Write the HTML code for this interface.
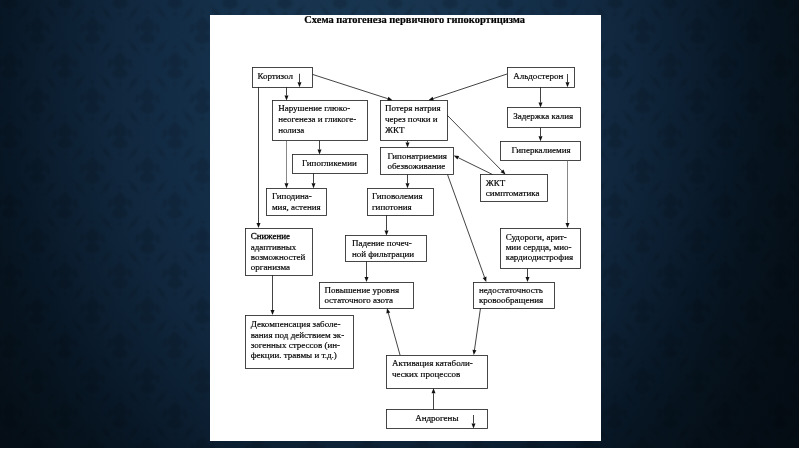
<!DOCTYPE html>
<html lang="ru"><head><meta charset="utf-8"><title>Схема патогенеза первичного гипокортицизма</title>
<style>
html,body{margin:0;padding:0;background:#0c1a29;}
body{width:800px;height:449px;overflow:hidden;position:relative;font-family:"Liberation Serif",serif;}
#bg{position:absolute;left:0;top:0;width:800px;height:449px;}
#sheet{position:absolute;left:210px;top:14.9px;width:391px;height:426px;background:#fff;}
svg#d{position:absolute;left:0;top:0;will-change:transform;}
svg#d rect{fill:#fff;stroke:#262626;stroke-width:.85;}
svg#d line{stroke:#222;stroke-width:.85;}
svg#d line.t{stroke:#606060;stroke-width:.75;}
svg#d polygon{fill:#111;}
svg#d text{font-family:"Liberation Serif",serif;font-size:9px;fill:#000;stroke:#000;stroke-width:.18px;}
svg#d text.b{stroke-width:.3px;}
svg#d text.h{font-size:10.45px;font-weight:bold;fill:#000;stroke:#000;stroke-width:.2px;}
</style></head><body>
<svg id="bg" width="800" height="449" viewBox="0 0 800 449">
<defs>
<filter id="bl" x="-20%" y="-20%" width="140%" height="140%"><feGaussianBlur stdDeviation="0.9"/></filter>
<g id="m"><path d="M0-14C3-10 7-8 7-3C7 0 4 2 2 3C6 4 9 7 7 11C5 13 1 12 0 15C-1 12-5 13-7 11C-9 7-6 4-2 3C-4 2-7 0-7-3C-7-8-3-10 0-14Z"/><path d="M-12-5C-9-8-7-4-8-1C-9 2-11 4-14 2C-12 1-11-1-12-5Z"/><path d="M12-5C9-8 7-4 8-1C9 2 11 4 14 2C12 1 11-1 12-5Z"/><circle cx="0" cy="-18" r="1.8"/><circle cx="0" cy="19" r="1.8"/></g>
<g id="lf"><ellipse cx="0" cy="0" rx="6" ry="2.2"/><circle cx="-8.5" cy="0" r="1.3"/><circle cx="8.5" cy="0" r="1.3"/></g>
<pattern id="p" width="55" height="70" patternUnits="userSpaceOnUse" x="10" y="-5">
<g fill="#020912" fill-opacity=".13" filter="url(#bl)"><use href="#m" x="27.5" y="35"/><use href="#m" x="0" y="0"/><use href="#m" x="55" y="0"/><use href="#m" x="0" y="70"/><use href="#m" x="55" y="70"/>
<use href="#lf" transform="translate(13.75 17.5) rotate(-52)"/><use href="#lf" transform="translate(41.25 17.5) rotate(52)"/><use href="#lf" transform="translate(13.75 52.5) rotate(52)"/><use href="#lf" transform="translate(41.25 52.5) rotate(-52)"/></g>
</pattern>
<radialGradient id="g" cx="0" cy="0" r="1" gradientUnits="userSpaceOnUse" gradientTransform="translate(370 80) scale(505 640)">
<stop offset="0" stop-color="#193752"/><stop offset=".2" stop-color="#17334d"/><stop offset=".32" stop-color="#142f49"/><stop offset=".42" stop-color="#122b44"/><stop offset=".52" stop-color="#10263c"/><stop offset=".62" stop-color="#0c1f32"/><stop offset=".72" stop-color="#081726"/><stop offset=".8" stop-color="#06131e"/><stop offset=".88" stop-color="#050f18"/><stop offset="1" stop-color="#040c14"/>
</radialGradient>
</defs>
<rect width="800" height="449" fill="url(#g)"/>
<rect width="800" height="449" fill="url(#p)"/>
</svg>
<div id="sheet"></div>
<div style="position:absolute;left:799px;top:0;width:1px;height:449px;background:#fff"></div>
<div style="position:absolute;left:0;top:448px;width:800px;height:1px;background:#fff"></div>
<svg id="d" width="800" height="449" viewBox="0 0 800 449">
<text class="h" transform="translate(304.3 22.5) scale(1 1.08)">Схема патогенеза первичного гипокортицизма</text>
<rect x="252.5" y="67.5" width="60.00" height="20.00"/>
<rect x="507.5" y="67.5" width="67.00" height="20.00"/>
<rect x="272.5" y="100.5" width="95.00" height="40.00"/>
<rect x="380.5" y="100.5" width="67.00" height="40.00"/>
<rect x="507.5" y="107.5" width="73.00" height="20.00"/>
<rect x="292.5" y="154.5" width="75.00" height="19.00"/>
<rect x="380.5" y="147.5" width="73.00" height="27.00"/>
<rect x="500.5" y="141.5" width="80.00" height="19.00"/>
<rect x="480.5" y="174.5" width="67.00" height="27.00"/>
<rect x="266.5" y="188.5" width="60.00" height="27.00"/>
<rect x="367.5" y="188.5" width="66.00" height="27.00"/>
<rect x="245.5" y="228.5" width="67.00" height="47.00"/>
<rect x="345.5" y="235.5" width="81.00" height="26.00"/>
<rect x="500.5" y="228.5" width="80.00" height="40.00"/>
<rect x="319.5" y="282.5" width="94.00" height="26.00"/>
<rect x="473.5" y="282.5" width="81.00" height="26.00"/>
<rect x="245.5" y="315.5" width="108.00" height="53.00"/>
<rect x="386.5" y="355.5" width="101.00" height="33.00"/>
<rect x="386.5" y="409.5" width="101.00" height="19.00"/>
<line x1="299.5" y1="73.75" x2="299.50" y2="82.30"/>
<polygon points="299.50,87.30 297.50,82.30 301.50,82.30"/>
<line x1="567.5" y1="74" x2="567.50" y2="82.30"/>
<polygon points="567.50,87.30 565.50,82.30 569.50,82.30"/>
<line x1="473.5" y1="415" x2="473.50" y2="423.40"/>
<polygon points="473.50,428.40 471.50,423.40 475.50,423.40"/>
<line x1="258.5" y1="87" x2="258.50" y2="223.00"/>
<polygon points="258.50,228.00 256.50,223.00 260.50,223.00"/>
<line x1="286.5" y1="87" x2="286.50" y2="95.50"/>
<polygon points="286.50,100.50 284.50,95.50 288.50,95.50"/>
<line class="t" x1="286.5" y1="140.75" x2="286.50" y2="183.25"/>
<polygon points="286.50,188.25 284.50,183.25 288.50,183.25"/>
<line x1="312.5" y1="74.4" x2="387.74" y2="98.67"/>
<polygon points="392.50,100.20 387.13,100.57 388.36,96.76"/>
<line x1="507" y1="74" x2="433.24" y2="98.62"/>
<polygon points="428.50,100.20 432.61,96.72 433.88,100.51"/>
<line x1="540.5" y1="87" x2="540.50" y2="102.50"/>
<polygon points="540.50,107.50 538.50,102.50 542.50,102.50"/>
<line x1="540.5" y1="127.5" x2="540.50" y2="136.25"/>
<polygon points="540.50,141.25 538.50,136.25 542.50,136.25"/>
<line x1="319.5" y1="140.75" x2="319.50" y2="149.50"/>
<polygon points="319.50,154.50 317.50,149.50 321.50,149.50"/>
<line x1="313.5" y1="173" x2="313.50" y2="183.25"/>
<polygon points="313.50,188.25 311.50,183.25 315.50,183.25"/>
<line x1="407.5" y1="140.75" x2="407.50" y2="142.50"/>
<polygon points="407.50,147.50 405.50,142.50 409.50,142.50"/>
<line x1="407.5" y1="174.5" x2="407.50" y2="183.25"/>
<polygon points="407.50,188.25 405.50,183.25 409.50,183.25"/>
<line x1="447" y1="115" x2="501.99" y2="170.93"/>
<polygon points="505.50,174.50 500.57,172.34 503.42,169.53"/>
<line x1="492.5" y1="174.5" x2="458.24" y2="157.70"/>
<polygon points="453.75,155.50 459.12,155.91 457.36,159.50"/>
<line class="t" x1="567.5" y1="160.5" x2="567.50" y2="223.00"/>
<polygon points="567.50,228.00 565.50,223.00 569.50,223.00"/>
<line x1="447.5" y1="174.5" x2="484.55" y2="277.30"/>
<polygon points="486.25,282.00 482.67,277.97 486.44,276.62"/>
<line x1="386.5" y1="215" x2="386.50" y2="230.50"/>
<polygon points="386.50,235.50 384.50,230.50 388.50,230.50"/>
<line x1="366.5" y1="261.25" x2="366.50" y2="277.00"/>
<polygon points="366.50,282.00 364.50,277.00 368.50,277.00"/>
<line x1="527.5" y1="268.75" x2="527.50" y2="277.00"/>
<polygon points="527.50,282.00 525.50,277.00 529.50,277.00"/>
<line x1="272.5" y1="275" x2="272.50" y2="310.00"/>
<polygon points="272.50,315.00 270.50,310.00 274.50,310.00"/>
<line x1="400" y1="355" x2="388.34" y2="313.07"/>
<polygon points="387.00,308.25 390.27,312.53 386.41,313.60"/>
<line x1="480.5" y1="308" x2="474.46" y2="350.05"/>
<polygon points="473.75,355.00 472.48,349.77 476.44,350.34"/>
<line x1="433.5" y1="409.5" x2="433.50" y2="393.25"/>
<polygon points="433.50,388.25 435.50,393.25 431.50,393.25"/>
<text x="257.40" y="78.95">Кортизол</text>
<text x="513.15" y="78.95">Альдостерон</text>
<text x="278.15" y="111.45">Нарушение глюко-</text>
<text x="278.15" y="122.20">неогенеза и гликоге-</text>
<text x="278.15" y="132.70">нолиза</text>
<text x="384.90" y="111.45">Потеря натрия</text>
<text x="384.90" y="122.20">через почки и</text>
<text x="384.90" y="132.70">ЖКТ</text>
<text x="513.15" y="118.95">Задержка калия</text>
<text x="301.90" y="165.70">Гипогликемии</text>
<text x="387.40" y="158.95">Гипонатриемия</text>
<text x="387.40" y="168.70">обезвоживание</text>
<text x="511.40" y="152.70">Гиперкалиемия</text>
<text x="485.65" y="185.95">ЖКТ</text>
<text x="485.65" y="196.20">симптоматика</text>
<text x="271.90" y="198.95">Гиподина-</text>
<text x="271.90" y="209.70">мия, астения</text>
<text x="371.90" y="198.95">Гиповолемия</text>
<text x="371.90" y="209.70">гипотония</text>
<text x="250.70" y="239.00" class="b">Снижение</text>
<text x="250.70" y="249.80">адаптивных</text>
<text x="250.70" y="260.00">возможностей</text>
<text x="250.70" y="269.95">организма</text>
<text x="351.90" y="245.70">Падение почеч-</text>
<text x="351.90" y="256.80">ной фильтрации</text>
<text x="505.65" y="239.70">Судороги, арит-</text>
<text x="505.65" y="250.20">мии сердца, мио-</text>
<text x="505.65" y="260.45">кардиодистрофия</text>
<text x="324.40" y="293.20">Повышение уровня</text>
<text x="324.40" y="303.20">остаточного азота</text>
<text x="478.90" y="293.20">недостаточность</text>
<text x="478.90" y="303.20">кровообращения</text>
<text x="250.65" y="327.20">Декомпенсация заболе-</text>
<text x="250.65" y="337.70">вания под действием эк-</text>
<text x="250.65" y="347.70">зогенных стрессов (ин-</text>
<text x="250.65" y="357.70">фекции. травмы и т.д.)</text>
<text x="391.90" y="365.95">Активация катаболи-</text>
<text x="391.90" y="377.20">ческих процессов</text>
<text x="415.15" y="420.95">Андрогены</text>
</svg>
</body></html>
